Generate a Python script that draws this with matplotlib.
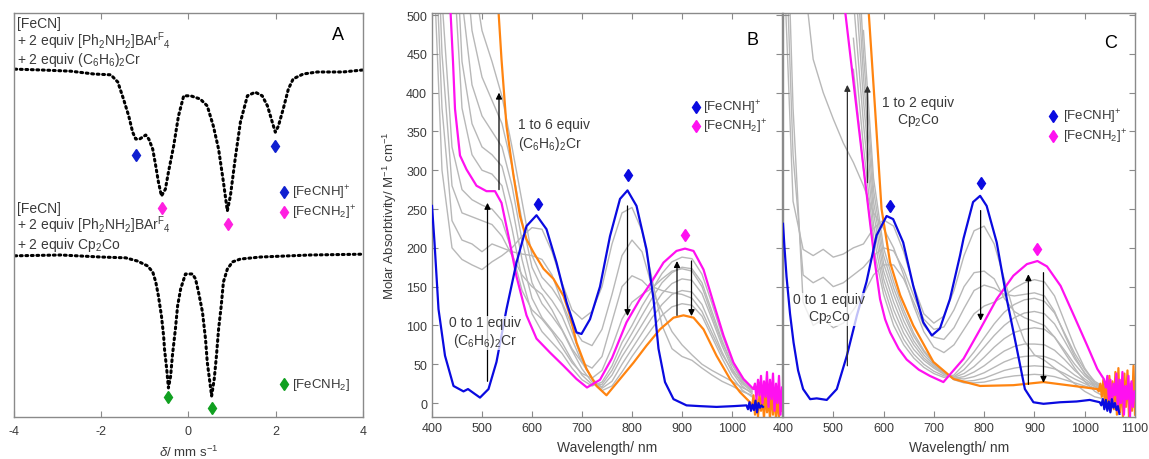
import numpy as np
import matplotlib.pyplot as plt

plt.rcParams['font.family'] = ['Liberation Sans', 'DejaVu Sans']
plt.rcParams['mathtext.fontset'] = 'custom'
plt.rcParams['mathtext.rm'] = 'Liberation Sans'
plt.rcParams['mathtext.it'] = 'Liberation Sans:italic'
plt.rcParams['mathtext.bf'] = 'Liberation Sans:bold'

# -----------------------------
# Panel A: Mossbauer spectra (delta in mm/s, offset intensity)
# -----------------------------
a_top_v = [-3.98, -3.38, -2.70, -2.17, -1.78, -1.62, -1.49, -1.37, -1.28, -1.21,
           -1.12, -1.05, -0.98, -0.91, -0.82, -0.75, -0.69, -0.62, -0.53, -0.46,
           -0.34, -0.23, -0.11, 0.05, 0.27, 0.43, 0.57, 0.69, 0.80, 0.89,
           0.96, 1.07, 1.19, 1.35, 1.53, 1.69, 1.81, 1.92, 1.99, 2.06,
           2.17, 2.29, 2.40, 2.63, 2.95, 3.54, 4.00]
a_top_y = [86.1, 85.9, 85.6, 84.9, 84.7, 82.9, 78.7, 74.5, 70.5, 68.8,
           68.8, 69.3, 69.8, 68.8, 66.3, 62.1, 58.2, 54.7, 56.4, 60.6,
           67.1, 74.5, 79.5, 79.5, 78.7, 77.0, 72.0, 66.3, 58.2, 51.0,
           54.7, 63.9, 73.0, 79.5, 80.4, 79.5, 77.0, 73.0, 70.5, 72.0,
           76.2, 81.2, 83.7, 84.9, 85.4, 85.4, 85.9]

a_bot_v = [-3.98, -2.93, -2.01, -1.44, -1.17, -0.94, -0.82, -0.75, -0.69, -0.62,
           -0.57, -0.55, -0.50, -0.46, -0.41, -0.37, -0.30, -0.25, -0.18, -0.07,
           0.09, 0.16, 0.23, 0.32, 0.39, 0.43, 0.48, 0.53, 0.59, 0.64,
           0.69, 0.75, 0.80, 0.89, 1.01, 1.19, 1.65, 2.79, 4.00]
a_bot_y = [39.9, 40.1, 39.6, 39.4, 38.6, 37.4, 35.9, 33.4, 30.0, 25.0,
           20.0, 16.8, 11.9, 7.2, 10.1, 15.1, 21.8, 27.5, 31.7, 35.4,
           35.4, 34.2, 30.9, 26.0, 19.3, 13.6, 9.4, 5.2, 9.4, 15.1,
           21.8, 27.5, 33.4, 36.6, 38.4, 39.1, 39.6, 40.1, 40.3]

# diamond markers (delta, y)
a_blue_marks = [(-1.21, 64.9), (1.99, 67.2)]
a_mag_marks = [(-0.60, 51.7), (0.90, 47.8)]
a_green_marks = [(-0.46, 4.9), (0.53, 2.2)]

# -----------------------------
# Panel B: (C6H6)2Cr titration, molar absorptivity
# -----------------------------
blue_b_x = [400, 405, 413, 426, 443, 463, 472, 485, 496, 513, 529, 549, 569, 589, 609,
            629, 649, 669, 689, 699, 716, 736, 756, 776, 791, 809, 829, 843, 853, 866,
            883, 909, 936, 969, 1003, 1029, 1032, 1035, 1038, 1041, 1044, 1047, 1050,
            1053, 1056, 1059, 1062]
blue_b_y = [254, 207, 121, 61, 22, 15, 18, 12, 7, 18, 53, 121, 181, 228, 242,
            224, 181, 130, 91, 89, 108, 150, 215, 263, 274, 254, 198, 134, 70, 27,
            5, -3, -4, -5, -4, -3, -8, 1, -10, -2, -9, 3, -12, 0, -6, -3, -5]

mag_b_x = [437, 442, 446, 456, 469, 489, 509, 526, 539, 553, 569, 589, 609, 636, 663,
           689, 710, 736, 760, 789, 816, 839, 863, 889, 906, 923, 943, 963, 983, 1003,
           1023, 1043, 1046, 1049, 1052, 1055, 1058, 1061, 1064, 1067, 1070, 1073, 1076,
           1079, 1082, 1085, 1088, 1091, 1094, 1097, 1100]
mag_b_y = [505, 440, 379, 319, 301, 280, 273, 273, 258, 215, 163, 113, 83, 65, 48,
           31, 20, 30, 58, 104, 134, 156, 181, 196, 199, 196, 172, 129, 87, 52,
           31, 18, 25, 5, 30, 10, 35, 0, 28, 8, 40, -5, 30, 5, 38, -10, 25, 0, 35, -15, 20]

orange_b_x = [533, 539, 549, 563, 576, 589, 603, 623, 643, 663, 676, 689, 709, 729, 749,
              776, 803, 829, 856, 883, 903, 923, 943, 969, 996, 1016, 1036, 1040, 1043,
              1046, 1049, 1052, 1055, 1058, 1061, 1064, 1067, 1070, 1073, 1076, 1079,
              1082, 1085, 1088, 1091, 1094, 1097, 1100]
orange_b_y = [505, 443, 357, 293, 241, 211, 194, 173, 160, 138, 113, 78, 44, 22, 10,
              31, 52, 74, 95, 110, 113, 110, 95, 61, 31, 14, 1, -5, 10,
              -15, 5, -18, 12, -10, 8, -20, 15, -12, 5, -20, 18,
              -15, 10, -20, 6, -18, 12, -10]

grid = [400, 420, 440, 460, 480, 500, 520, 540, 560, 580, 600, 620, 640, 660, 680, 700,
        720, 740, 760, 780, 800, 820, 840, 860, 880, 900, 920, 940, 960, 980, 1000, 1020, 1040]

gray_b = [
    [620, 300, 200, 185, 178, 172, 182, 190, 200, 215, 226, 224, 195, 155, 120, 108,
     118, 150, 205, 245, 252, 222, 160, 100, 70, 60, 55, 45, 36, 28, 22, 15, 10],
    [700, 380, 235, 210, 205, 195, 205, 200, 195, 192, 190, 185, 165, 130, 100, 80,
     74, 95, 140, 190, 210, 195, 150, 145, 142, 140, 135, 118, 90, 63, 42, 27, 17],
    [800, 450, 280, 245, 240, 235, 230, 215, 190, 165, 150, 140, 120, 95, 70, 52,
     45, 60, 105, 150, 164, 158, 145, 118, 92, 75, 62, 50, 42, 35, 28, 20, 14],
    [900, 520, 330, 275, 262, 255, 250, 235, 195, 145, 120, 108, 92, 72, 52, 38,
     32, 42, 72, 108, 130, 140, 148, 160, 170, 173, 170, 150, 113, 78, 50, 30, 20],
    [None, None, 600, 380, 320, 300, 295, 280, 225, 160, 115, 92, 78, 64, 45, 30,
     22, 27, 48, 78, 100, 125, 146, 167, 182, 188, 186, 166, 128, 88, 54, 31, 19],
    [None, None, 700, 440, 360, 330, 320, 305, 255, 185, 135, 110, 94, 78, 55, 36,
     24, 24, 42, 68, 90, 113, 135, 155, 168, 175, 173, 155, 118, 81, 50, 28, 17],
    [None, None, 800, 520, 410, 370, 350, 330, 280, 210, 155, 128, 112, 94, 68, 44,
     27, 21, 36, 60, 80, 101, 122, 141, 154, 160, 158, 141, 108, 74, 45, 25, 15],
    [None, None, None, 620, 480, 420, 390, 360, 305, 235, 175, 148, 132, 112, 82, 52,
     32, 19, 28, 50, 70, 90, 110, 127, 140, 145, 143, 127, 97, 66, 40, 22, 12],
    [None, None, None, 750, 560, 480, 440, 395, 330, 260, 190, 162, 148, 128, 92, 56,
     31, 16, 22, 40, 60, 78, 96, 113, 124, 128, 126, 112, 85, 58, 34, 17, 8],
]

b_blue_marks = [(611, 257), (791, 294)]
b_mag_marks = [(905, 216)]

# -----------------------------
# Panel C: Cp2Co titration
# -----------------------------
blue_c_x = [400, 403, 407, 414, 421, 430, 440, 454, 467, 487, 507, 527, 547, 566, 586,
            606, 619, 639, 659, 679, 696, 712, 732, 752, 759, 778, 792, 805, 825, 845,
            865, 881, 898, 918, 951, 984, 1010, 1030, 1033, 1036, 1039, 1042, 1045, 1048,
            1051, 1054, 1057, 1060, 1063, 1066, 1069]
blue_c_y = [231, 200, 163, 115, 78, 42, 18, 5, 6, 4, 18, 61, 113, 156, 216,
            241, 237, 207, 151, 104, 87, 96, 134, 190, 212, 259, 267, 254, 207, 134,
            70, 18, 1, -1, 1, 2, 4, 1, -3, 5, -8, 4, -10, 2,
            -12, 5, -6, 0, -9, -4, -14]

mag_c_x = [523, 548, 573, 583, 593, 603, 613, 630, 646, 670, 692, 719, 759, 792, 825,
           858, 885, 906, 925, 952, 979, 1005, 1025, 1038, 1042, 1045, 1048, 1051, 1054,
           1057, 1060, 1063, 1066, 1069, 1072, 1075, 1078, 1081, 1084, 1087, 1090, 1093,
           1096, 1099]
mag_c_y = [508, 370, 233, 180, 134, 108, 91, 70, 56, 43, 35, 27, 57, 95, 134,
           164, 179, 183, 176, 151, 112, 74, 44, 31, 20, 35, 5, 30, -5,
           25, 10, 38, -10, 30, 0, 40, -15, 22, 5, 35, -18, 28,
           -5, 15]

orange_c_x = [570, 583, 596, 613, 633, 659, 699, 739, 792, 858, 918, 978, 1025, 1028,
              1031, 1034, 1037, 1040, 1043, 1046, 1049, 1052, 1055, 1058, 1061, 1064,
              1067, 1070, 1073, 1076, 1079, 1082, 1085, 1088, 1091, 1094, 1097, 1100]
orange_c_y = [508, 380, 250, 181, 139, 100, 53, 31, 22, 23, 27, 22, 18, 15,
              25, 8, 30, 0, 22, -5, 35, -10, 28, -8, 40, -15,
              45, -12, 30, -18, 38, -5, 42, -18, 25, -10, 48, -15]

gray_c = [
    [600, 260, 198, 190, 198, 188, 192, 200, 205, 225, 236, 228, 195, 150, 115, 103,
     112, 145, 190, 222, 228, 205, 160, 115, 80, 62, 55, 45, 35, 25, 15, 8, 5],
    [700, 320, 165, 155, 162, 150, 155, 165, 175, 190, 200, 196, 172, 138, 108, 95,
     98, 120, 150, 168, 170, 160, 135, 118, 110, 105, 100, 85, 65, 45, 28, 15, 8],
    [800, 380, 130, 100, 108, 97, 103, 120, 140, 165, 178, 178, 160, 130, 100, 85,
     82, 97, 122, 145, 152, 148, 140, 138, 140, 142, 138, 118, 88, 60, 38, 22, 12],
    [None, None, 560, 443, 400, 366, 335, 310, 280, 245, 225, 200, 165, 125, 92, 72,
     65, 75, 95, 115, 125, 130, 138, 148, 155, 159, 156, 138, 105, 72, 45, 26, 14],
    [None, None, None, None, None, None, None, 430, 300, 200, 140, 100, 75, 58, 46, 38,
     33, 36, 50, 66, 84, 102, 117, 127, 133, 135, 131, 116, 90, 64, 43, 28, 20],
    [None, None, None, None, None, None, None, 470, 330, 215, 150, 110, 82, 63, 50, 41,
     35, 34, 43, 57, 72, 87, 100, 110, 116, 118, 115, 102, 80, 57, 39, 26, 19],
    [None, None, None, None, None, None, None, 520, 360, 230, 160, 120, 90, 69, 55, 45,
     37, 33, 38, 47, 59, 72, 83, 91, 95, 97, 95, 85, 68, 50, 35, 24, 18],
    [None, None, None, None, None, None, None, 580, 390, 245, 170, 130, 98, 75, 58, 47,
     38, 32, 34, 40, 48, 58, 67, 73, 76, 76, 75, 68, 56, 42, 31, 22, 17],
    [None, None, None, None, None, None, None, 640, 420, 260, 180, 140, 106, 80, 62, 49,
     39, 32, 31, 34, 39, 46, 53, 58, 60, 61, 60, 55, 46, 36, 28, 21, 16],
    [None, None, None, None, None, None, None, 700, 450, 275, 190, 148, 114, 86, 66, 51,
     40, 31, 28, 29, 32, 37, 42, 45, 47, 48, 47, 44, 38, 31, 25, 19, 15],
    [None, None, None, None, None, None, None, None, 480, 290, 200, 156, 120, 90, 68, 52,
     40, 30, 26, 26, 27, 30, 33, 35, 36, 37, 36, 34, 30, 26, 22, 18, 14],
]

c_blue_marks = [(613, 254), (793, 284)]
c_mag_marks = [(906, 199)]

# -----------------------------
# Styles
# -----------------------------
BLUE = '#0a0ae0'
MAGENTA = '#ff10f0'
ORANGE = '#ff8410'
GRAY = '#b8b8b8'
GREEN = '#10a020'
SPINE = '#8a8a8a'
TXT = '#3a3a3a'

fig = plt.figure(figsize=(11.49, 4.6), dpi=100)
axA = fig.add_axes([14 / 1149, 42 / 460, 349 / 1149, 404 / 460])
axB = fig.add_axes([432 / 1149, 42 / 460, 350 / 1149, 404 / 460])
axC = fig.add_axes([783 / 1149, 42 / 460, 352 / 1149, 404 / 460])

for ax in (axA, axB, axC):
    for s in ax.spines.values():
        s.set_color(SPINE)
        s.set_linewidth(1.0)
    ax.tick_params(direction='in', top=True, right=True, length=4, width=0.8,
                   color=SPINE, labelcolor=TXT, labelsize=9)


def marks(ax, pts, color, ms=6.5):
    ax.plot([p[0] for p in pts], [p[1] for p in pts], ls='none', marker='d',
            ms=ms, color=color, zorder=8)


def arrow(ax, x, y0, y1, color='black'):
    ax.annotate('', xy=(x, y1), xytext=(x, y0),
                arrowprops=dict(arrowstyle='-|>', color=color, lw=0.9,
                                mutation_scale=9, shrinkA=0, shrinkB=0),
                zorder=6)


box = dict(facecolor='white', edgecolor='none', alpha=0.75, pad=0.5)

# ---- Panel A ----
axA.plot(a_top_v, a_top_y, color='black', lw=2.2, ls=(0, (0.6, 1.2)),
         dash_capstyle='round')
axA.plot(a_bot_v, a_bot_y, color='black', lw=2.2, ls=(0, (0.6, 1.2)),
         dash_capstyle='round')
marks(axA, a_blue_marks, '#1020d0')
marks(axA, a_mag_marks, '#ff20e0')
marks(axA, a_green_marks, GREEN)

axA.set_xlim(-4, 4)
axA.set_ylim(0, 100)
axA.set_xticks([-4, -2, 0, 2, 4])
axA.set_xticklabels(['-4', '-2', '0', '2', '4'])
axA.set_yticks([])
axA.tick_params(axis='x', pad=6)
axA.set_xlabel(r'$\delta$/ mm s$^{-1}$', fontsize=9.5, color=TXT)
axA.xaxis.set_label_coords(0.5, -0.066)

fs = 10
axA.text(-3.93, 96.6, '[FeCN]', fontsize=fs, color=TXT)
axA.text(-3.93, 92.0, r'+ 2 equiv [Ph$_2$NH$_2$]BAr$^{\mathrm{F}}$$_4$', fontsize=fs, color=TXT)
axA.text(-3.93, 87.5, r'+ 2 equiv (C$_6$H$_6$)$_2$Cr', fontsize=fs, color=TXT)
axA.text(-3.93, 50.8, '[FeCN]', fontsize=fs, color=TXT)
axA.text(-3.93, 46.5, r'+ 2 equiv [Ph$_2$NH$_2$]BAr$^{\mathrm{F}}$$_4$', fontsize=fs, color=TXT)
axA.text(-3.93, 41.9, r'+ 2 equiv Cp$_2$Co', fontsize=fs, color=TXT)
axA.text(3.43, 94.8, 'A', fontsize=13, ha='center', va='center', color='black')

marks(axA, [(2.18, 55.6)], '#1020d0')
marks(axA, [(2.18, 50.7)], '#ff20e0')
marks(axA, [(2.18, 8.2)], GREEN)
axA.text(2.37, 55.6, r'[FeCNH]$^{+}$', fontsize=9.5, va='center', color=TXT)
axA.text(2.37, 50.7, r'[FeCNH$_2$]$^{+}$', fontsize=9.5, va='center', color=TXT)
axA.text(2.37, 8.2, r'[FeCNH$_2$]', fontsize=9.5, va='center', color=TXT)

# ---- Panels B and C ----
for ax, grays, bx, by, mx, my, ox, oy in [
        (axB, gray_b, blue_b_x, blue_b_y, mag_b_x, mag_b_y, orange_b_x, orange_b_y),
        (axC, gray_c, blue_c_x, blue_c_y, mag_c_x, mag_c_y, orange_c_x, orange_c_y)]:
    for g in grays:
        ax.plot(grid, np.array(g, dtype=float), color=GRAY, lw=1.0, zorder=1)
    ax.plot(ox, oy, color=ORANGE, lw=1.6, zorder=2)
    ax.plot(mx, my, color=MAGENTA, lw=1.6, zorder=3)
    ax.plot(bx, by, color=BLUE, lw=1.6, zorder=4)
    ax.set_xlim(400, 1100)
    ax.set_ylim(-18, 502.6)
    ax.set_xticks(range(400, 1101, 100))
    ax.set_yticks(range(0, 501, 50))
    ax.set_xlabel('Wavelength/ nm', fontsize=10, color=TXT)
    ax.xaxis.set_label_coords(0.5, -0.058)

axB.set_xticklabels(['400', '500', '600', '700', '800', '900', '1000', ''])
axC.set_yticklabels([])
axB.set_ylabel(r'Molar Absorbtivity/ M$^{-1}$ cm$^{-1}$', fontsize=9.5, color=TXT)
axB.yaxis.set_label_coords(-0.094, 0.5)

marks(axB, b_blue_marks, BLUE)
marks(axB, b_mag_marks, MAGENTA)
marks(axC, c_blue_marks, BLUE)
marks(axC, c_mag_marks, MAGENTA)

# arrows B
arrow(axB, 511, 28, 258)
arrow(axB, 534, 275, 400)
arrow(axB, 791, 254, 112)
arrow(axB, 890, 113, 183)
arrow(axB, 919, 183, 112)
axB.text(506, 91.5, '0 to 1 equiv\n(C$_6$H$_6$)$_2$Cr', fontsize=fs, ha='center',
         va='center', multialignment='center', color=TXT, bbox=box, zorder=7)
axB.text(572, 346, '1 to 6 equiv\n(C$_6$H$_6$)$_2$Cr', fontsize=fs, ha='left',
         va='center', multialignment='left', color=TXT, bbox=box, zorder=7)
axB.text(1040, 468, 'B', fontsize=13, ha='center', va='center')
marks(axB, [(928, 381)], BLUE)
marks(axB, [(928, 357)], MAGENTA)
axB.text(942, 381, r'[FeCNH]$^{+}$', fontsize=9.5, va='center', color=TXT)
axB.text(942, 357, r'[FeCNH$_2$]$^{+}$', fontsize=9.5, va='center', color=TXT)

# arrows C
arrow(axC, 528, 48, 410, color='#303030')
arrow(axC, 568, 284, 409, color='#303030')
arrow(axC, 793, 248, 106)
arrow(axC, 888, 24, 166)
arrow(axC, 918, 168, 26)
axC.text(492, 122, '0 to 1 equiv\nCp$_2$Co', fontsize=fs, ha='center',
         va='center', multialignment='center', color=TXT, bbox=box, zorder=7)
axC.text(669, 376, '1 to 2 equiv\nCp$_2$Co', fontsize=fs, ha='center',
         va='center', multialignment='center', color=TXT, bbox=box, zorder=7)
axC.text(1051, 465, 'C', fontsize=13, ha='center', va='center')
marks(axC, [(937, 370)], BLUE)
marks(axC, [(937, 344)], MAGENTA)
axC.text(956, 370, r'[FeCNH]$^{+}$', fontsize=9.5, va='center', color=TXT)
axC.text(956, 344, r'[FeCNH$_2$]$^{+}$', fontsize=9.5, va='center', color=TXT)

fig.savefig('out.png', dpi=100)
